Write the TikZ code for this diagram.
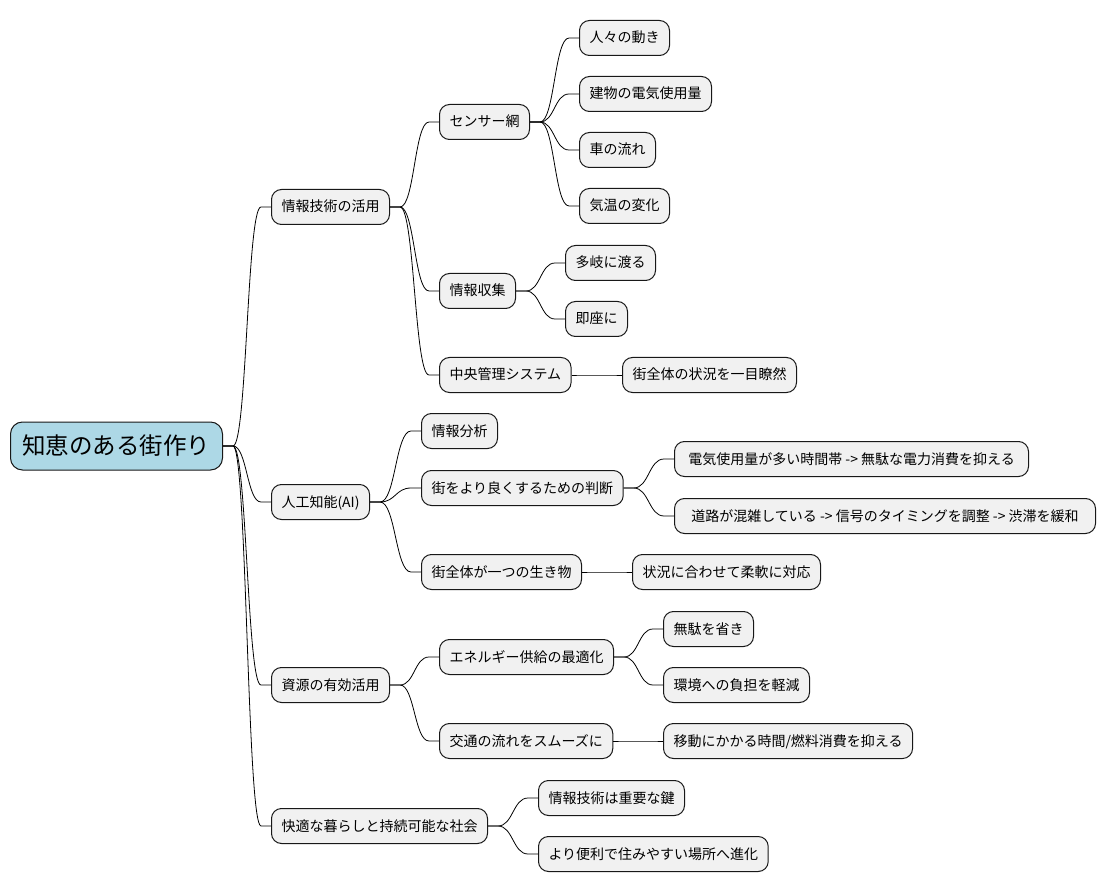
\documentclass[tikz,border=0pt]{standalone}
\usepackage{fontspec}
\setmainfont{Noto Sans CJK JP}
\usetikzlibrary{calc}

\definecolor{zweigfarbe}{HTML}{F1F1F1}
\definecolor{stammfarbe}{HTML}{ADD8E6}
\definecolor{randfarbe}{HTML}{181818}

\begin{document}
\begin{tikzpicture}[x=1pt,y=-1pt,
    zweig/.style={draw=randfarbe, fill=zweigfarbe, line width=1pt, rounded corners=10pt,
        anchor=west, minimum height=35pt, inner xsep=10pt, inner ysep=0pt,
        text height=12pt, text depth=2pt, font=\fontsize{14}{16}\selectfont},
    stamm/.style={zweig, fill=stammfarbe, minimum height=48pt, inner xsep=12pt,
        text height=20pt, text depth=3.5pt, rounded corners=12pt, font=\fontsize{23.5}{26}\selectfont},
]

\useasboundingbox (0,0) rectangle (1106,893);

% Wurzel
\node[stamm] (root) at (10,446) {知恵のある街作り};

% erste Ebene
\node[zweig] (it)   at (271,207) {情報技術の活用};
\node[zweig] (ai)   at (271,502) {人工知能(AI)};
\node[zweig] (res)  at (271,685) {資源の有効活用};
\node[zweig] (life) at (271,826) {快適な暮らしと持続可能な社会};

% Informationstechnik
\node[zweig] (sensor)  at (439,122) {センサー網};
\node[zweig] (s1) at (579,38)  {人々の動き};
\node[zweig] (s2) at (579,94)  {建物の電気使用量};
\node[zweig] (s3) at (579,150) {車の流れ};
\node[zweig] (s4) at (579,206) {気温の変化};
\node[zweig] (collect) at (439,291) {情報収集};
\node[zweig] (c1) at (565,263) {多岐に渡る};
\node[zweig] (c2) at (565,319) {即座に};
\node[zweig] (central) at (439,375) {中央管理システム};
\node[zweig] (z1) at (622,375) {街全体の状況を一目瞭然};

% KI
\node[zweig] (ana)      at (421,431) {情報分析};
\node[zweig] (judge)    at (421,488) {街をより良くするための判断};
\node[zweig, minimum width=354pt] (j1) at (674,459) {電気使用量が多い時間帯 -> 無駄な電力消費を抑える};
\node[zweig, minimum width=421pt] (j2) at (674,516) {道路が混雑している -> 信号のタイミングを調整 -> 渋滞を緩和};
\node[zweig] (organism) at (421,572) {街全体が一つの生き物};
\node[zweig] (o1) at (632,572) {状況に合わせて柔軟に対応};

% Ressourcen
\node[zweig] (energy)  at (439,657) {エネルギー供給の最適化};
\node[zweig] (e1) at (663,629) {無駄を省き};
\node[zweig] (e2) at (663,685) {環境への負担を軽減};
\node[zweig] (traffic) at (439,741) {交通の流れをスムーズに};
\node[zweig] (t1) at (663,741) {移動にかかる時間/燃料消費を抑える};

% Leben
\node[zweig] (l1) at (538,798) {情報技術は重要な鍵};
\node[zweig] (l2) at (538,854) {より便利で住みやすい場所へ進化};

% Verbindungen
\foreach \p/\c in {root/it, root/ai, root/res, root/life,
    it/sensor, it/collect, it/central,
    sensor/s1, sensor/s2, sensor/s3, sensor/s4,
    collect/c1, collect/c2, central/z1,
    ai/ana, ai/judge, ai/organism, judge/j1, judge/j2, organism/o1,
    res/energy, res/traffic, energy/e1, energy/e2, traffic/t1,
    life/l1, life/l2}{
  \path ([xshift=10pt]\p.east) coordinate (s) ([xshift=-10pt]\c.west) coordinate (t);
  \coordinate (m) at ($(s)!0.5!(t)$);
  \draw[line width=0.8pt] (\p.east) -- (s) .. controls (s -| m) and (t -| m) .. (t) -- (\c.west);
}

\end{tikzpicture}
\end{document}
